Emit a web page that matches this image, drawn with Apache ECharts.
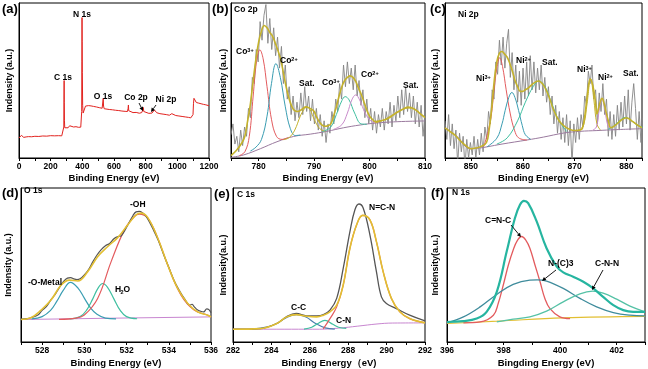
<!DOCTYPE html>
<html><head><meta charset="utf-8">
<script src="https://cdn.jsdelivr.net/npm/echarts@6/dist/echarts.min.js"></script>
<style>html,body{margin:0;padding:0;background:#fff}#c{width:648px;height:369px}</style>
</head><body><div id="c"></div>
<script>
const FONT = "'Liberation Sans Narrow','Liberation Sans',Arial,sans-serif";
const FONTW = "'Liberation Sans',Arial,sans-serif";

// ---------- (a) survey ----------
const surveyEnergy = [0,8,15,22,30,45,60,80,100,125,150,175,200,225,250,270,281,283,284,285,286,287,289,292,300,310,320,330,345,360,375,390,394,396,397,398,399,400,402,405,410,415,420,425,430,440,455,470,490,510,525,529,532,534,538,550,570,590,610,630,650,670,685,689,691,693,700,720,740,760,775,782,785,788,800,820,840,850,855,860,870,890,910,930,950,965,970,975,990,1010,1030,1050,1070,1085,1095,1099,1102,1105,1110,1120,1135,1150,1165,1180,1200];
const surveyIntensity = [12.9,13.2,14.6,13.4,13.3,13.6,13.8,13.7,14.0,13.9,14.2,14.1,14.4,14.3,14.4,14.3,14.5,20,38,50,36,24,19.5,18.8,18.8,19.5,20.8,20.2,20.0,20.2,19.8,19.9,20.5,30,62,90.6,75,55,34,29,28,30,33.5,34.6,34.3,33.8,33.6,33.3,32.9,32.4,32.1,33.0,38.5,33.5,31.8,31.6,31.3,31.1,30.8,30.6,30.3,30.1,30.0,32.0,34.2,30.5,29.6,29.3,29.4,28.9,29.3,31.0,32.6,30.0,29.1,28.8,29.0,30.2,31.0,29.8,29.2,28.6,28.3,28.0,27.6,28.6,29.6,28.4,27.4,27.1,26.8,26.5,26.2,25.9,25.5,28,35,38.5,37.4,35.8,35.4,35.0,34.6,34.3,33.7];
const surveyTickLabels = [0,200,400,600,800,1000,1200];

// ---------- (b) Co 2p ----------
const coRawStart = 775, coRawStep = 0.35;
const coRaw = [15,22,9,14,4,18,8,20,14,32,26,52,48,70,62,88,76,92,99,74,90,70,84,66,78,58,72,48,60,38,46,28,40,24,36,26,42,28,46,30,40,24,38,22,32,18,28,14,24,10,22,16,30,22,38,30,48,38,60,46,62,48,58,44,60,40,50,34,44,26,38,22,32,18,30,16,28,20,32,18,30,22,36,20,34,24,40,26,44,28,46,30,42,26,40,22,36,20,34,14,30];
const coEnvE = [775,776,777,777.5,778,778.5,779,779.5,780,780.5,781,781.5,782,782.5,783,783.5,784,784.5,785,785.5,786,786.5,787,787.5,788,788.5,789,789.5,790,790.5,791,791.5,792,792.5,793,793.5,794,794.5,795,795.5,796,796.5,797,797.5,798,798.5,799,799.5,800,800.5,801,802,803,804,805,806,807,808,809,810];
const coEnvI = [1.6,5,10,14,24,35,50,64,75,82,85.5,84,81,78.5,74,69,63,54,45,38,33,30.5,30,30.6,32,33,32.5,31.5,30,26,23,21,20.5,20.8,22,27,33,40,46,50,52,53,52,49.5,45,41,36,31,27,25,23.5,24,25,27,29.5,31.5,32.8,31.8,29,26];
const coBgE = [775,777.3,780.3,783.3,786.3,789.3,792.3,795.3,798.3,801.3,804.3,807.3,810];
const coBgI = [0.4,2,6,10.5,13.9,15.4,17.2,19.5,21.3,22.6,23.3,23.7,23.9];
const co3aE = [776.5,777.5,778.3,779,779.6,780.2,780.8,781.5,782.3,783.2,784.2,785.3];
const co3aI = [1.5,4,14,40,62,69.8,64,46,25,14,12,13.2];
const co2aE = [778.5,779.5,780.5,781.5,782.3,783.1,783.9,784.8,785.7,786.6,787.5];
const co2aI = [4.5,7,12,27,48,60.9,52,33,19,14.5,14.8];
const coSat1E = [784.5,785.5,786.5,787.5,788.2,788.7,789.3,790,791,792];
const coSat1I = [11.8,13.2,18,27,31.5,32.9,31,25,19,17.2];
const co3bE = [791.5,793,794,795,795.6,796.3,797.3,798.5,799.5];
const co3bI = [17,20,28,37,39.6,37.5,29,22,21.8];
const co2bE = [793.5,795,796,796.8,797.5,798.2,799.2,800.2,801.2];
const co2bI = [18.5,21.5,29,37.5,40.7,37.5,29,24,22.6];
const coSat2E = [801,802.5,804,805.5,806.5,807.3,808.3,809.2,810];
const coSat2I = [22.6,24.5,27.5,30.5,32,32.2,31,28.5,26.5];
const coTickLabels = [780,790,800,810];

// ---------- (c) Ni 2p ----------
const niRawStart = 845, niRawStep = 0.35;
const niRaw = [24,12,28,8,22,6,18,-4,16,4,14,-6,12,0,10,2,14,0,12,2,16,4,20,12,30,22,44,38,62,54,76,60,78,58,74,83,52,68,44,60,36,56,34,58,38,62,40,66,44,62,42,58,44,60,40,52,36,46,28,40,22,34,16,30,12,26,10,28,8,24,-4,22,10,26,12,28,20,40,34,56,48,60,38,44,22,42,30,48,28,38,14,30,12,28,14,34,18,36,20,40,22,44,18,36,48,32,12,30,10,26,16];
const niEnvE = [845,846,847,848,849,850,851,852,853,853.5,854,854.5,855,855.5,856,856.5,857,857.5,858,858.5,859,859.5,860,860.5,861,862,863,864,865,866,867,868,869,870,871,871.5,872,872.5,873,873.5,874,874.3,874.7,875,875.3,875.7,876,876.5,877,878,879,880,881,882,883];
const niEnvI = [19.5,17,14.5,11,8,6,6.5,7.5,10,18,32,50,62,67.6,68.7,67,65,61,56,50,46,43,43,44,45,48,49.7,47,40,30.6,24,20.5,18.5,17.7,18,19,28,42,51,47,37,28.4,33,37,38.5,35,30.6,24,19.5,21.5,24.5,26,24,21.5,19.5];
const niBgE = [845,847.3,849.9,851.8,853.1,856,860.8,864,867.9,871,874.3,878,883.7];
const niBgI = [19.5,13.9,6,6.5,7.2,9,11.6,13.5,16.1,17.2,17.7,18.3,19];
const ni3aE = [852.5,853.75,854.5,855,855.55,856.1,856.8,857.6,858.4,859.2,860.8];
const ni3aI = [7.5,23.9,45,58,64.7,59,44,28.4,18,13,11.6];
const ni2aE = [853.1,855,856,856.6,857.3,857.9,858.5,859.2,859.9,860.5,861.5];
const ni2aI = [7.2,12.8,22,30.6,39,42.3,39,30.6,21,15,12.2];
const niSat1E = [855,857,859,860.5,862,863.1,864.3,865.6,867,868.5];
const niSat1I = [9,13,24,36,46,49.7,46,35,24,17];
const ni3bE = [871,871.8,872.4,873.1,873.7,874.3,875];
const ni3bI = [18,22,35,51.2,38,22,18];
const ni2bE = [873.5,874.2,874.8,875.3,875.8,876.4,877];
const ni2bI = [18,20,32,38.5,32,21,18.5];
const niSat2E = [876.5,877.5,878.5,879.8,881,882,883.7];
const niSat2I = [18.5,20.5,23.5,26.2,24,21.5,19];
const niTickLabels = [850,860,870,880];

// ---------- (d) O 1s ----------
const oRawE = [527.0,527.3,527.5,527.8,528.0,528.2,528.4,528.6,528.8,529.0,529.2,529.35,529.5,529.65,529.8,530.0,530.2,530.4,530.6,530.8,531.0,531.2,531.4,531.6,531.75,531.9,532.1,532.3,532.45,532.6,532.75,532.9,533.1,533.3,533.5,533.75,534.0,534.25,534.5,534.75,535.0,535.1,535.2,535.35,535.5,535.65,535.8,535.9,536.0];
const oRawI = [14.8,15.2,15.9,17.5,20.5,23.0,27.0,30.5,35.0,39.0,41.5,41.8,41.0,40.5,41.0,43.5,47.0,52.0,56.5,60.0,62.5,64.0,67.0,68.5,69.0,72.0,77.0,82.0,84.5,84.8,84.0,82.0,77.5,72.0,66.0,57.0,48.5,40.0,33.5,28.0,24.0,24.5,23.0,21.0,20.0,19.5,21.5,21.0,19.0];
const oEnvE = [527,527.47,527.95,528.42,528.9,529.29,529.69,530.16,530.63,531.11,531.58,532.06,532.45,532.69,533,533.48,533.95,534.42,534.9,535.37,535.85,536];
const oEnvI = [14.6,15.7,20.7,27.2,37,40.2,39.6,45.7,55.4,62,67.8,76.1,82.6,83.7,80.9,67.4,50,34.8,25,19.6,17.4,16.3];
const oBgE = [527,531.5,536];
const oBgI = [14.6,15.5,16.3];
const oMetalE = [527.5,528.0,528.4,528.7,529.0,529.34,529.7,530.0,530.3,530.6,531.0,531.5];
const oMetalI = [15.0,16.5,20.5,26.5,33.5,38.7,35.0,28.5,22.0,18.0,15.5,15.0];
const oH2OE = [529.3,529.8,530.1,530.4,530.65,530.87,531.1,531.4,531.7,532.0,532.5];
const oH2OI = [15.0,16.5,20.5,28.0,35.0,38.0,35.5,28.0,20.5,16.5,15.1];
const oOHE = [528.8,529.6,530.0,530.63,531.27,531.9,532.37,532.6,533,533.48,533.95,534.58,535.2,535.85,536];
const oOHI = [14.7,15.5,17.5,28.3,52.2,72.8,81.5,83,80.4,67.4,50,30.4,20.7,17.4,16.3];
const oTickLabels = [528,530,532,534,536];

// ---------- (e) C 1s ----------
const cRawE = [282,283.42,284.28,284.8,285.29,285.84,286.36,286.71,287.05,287.4,287.74,288.09,288.35,288.56,288.78,289.13,289.47,289.73,289.99,290.51,291.2,292];
const cRawI = [8.3,8.7,12.0,16.5,18.5,17.0,17.0,17.8,20.7,28.3,47.8,71.7,85.9,89.6,87.0,69.6,45.7,29.3,25.0,21.7,17.4,13.7];
const cEnvE = [282,283.42,284.28,284.8,285.29,285.84,286.36,286.71,287.05,287.4,287.74,288.09,288.44,288.75,289.13,289.47,289.82,290.25,290.69,291.2,292];
const cEnvI = [8.3,8.7,12.0,16.3,17.8,16.7,16.3,17.4,19.6,23.9,37.0,60.9,76.1,82.2,79.3,65.2,45.7,28.3,19.6,15.2,12.4];
const cBgE = [282,286.5,287.5,288.5,289.5,290.3,292];
const cBgI = [8.3,8.3,9.0,10.3,11.7,12.3,12.4];
const cCCE = [283.0,283.8,284.3,284.8,285.3,285.8,286.3,286.8,287.3];
const cCCI = [8.3,9.8,12.2,16.0,17.8,16.2,12.0,9.2,8.4];
const cCNE = [285.7,286.1,286.4,286.79,287.2,287.5,287.9];
const cCNI = [8.4,9.6,11.8,14.1,11.5,9.6,8.9];
const cNCNE = [286.7,287.05,287.4,287.74,288.09,288.44,288.75,289.13,289.47,289.82,290.25,290.69,291.2,292];
const cNCNI = [8.5,15.2,22.8,37.0,60.9,76.1,82.2,79.3,65.2,45.7,28.3,19.6,15.2,12.6];
const cTickLabels = [282,284,286,288,290,292];

// ---------- (f) N 1s ----------
const nEnvE = [396,396.58,397.05,397.4,397.76,398.11,398.4,398.58,398.72,398.87,399.17,399.52,399.88,400.11,400.46,400.82,401.17,401.52,401.88,402.23,402.58,403];
const nEnvI = [13,13.5,15.2,19.6,32.6,58.7,80.4,89.1,91.7,90.2,78.3,60.9,48.9,45.2,42.4,39.1,34.8,29.3,23.9,20.7,19.6,19.6];
const nBgE = [396,397.76,400.11,403];
const nBgI = [12.0,13.5,15.7,16.7];
const nCNCE = [396.58,397.17,397.64,397.81,397.99,398.17,398.34,398.49,398.64,398.79,398.93,399.11,399.29,399.46,399.64,399.99,400.35];
const nCNCI = [12.4,13,17.4,25,37,50,59.8,66,68.5,66,60.9,50,39.1,28.3,21.7,16.3,15.2];
const nNC3E = [396,396.58,397.17,397.76,398.34,398.93,399.19,399.52,400.11,400.7,401.29,401.88,402.47,403];
const nNC3I = [12.4,16.3,22.8,30.9,37.4,40.2,40.4,39.6,34.8,28.3,22.8,19.1,17.4,17];
const nCNNE = [397.76,398.34,398.93,399.52,400.11,400.7,401.15,401.52,402,402.47,403];
const nCNNI = [13,14.8,16.3,20,26.1,31.3,33,31.7,27.8,23.3,19.6];
const nTickLabels = [396,398,400,402];

// ---------- build ----------
const zip = (e, v) => e.map((x, i) => [x, v[i]]);
const regular = (start, step, v) => v.map((y, i) => [+(start + i * step).toFixed(3), y]);

const grids = [
  {left: 19, top: 3, width: 190, height: 155},
  {left: 231, top: 3, width: 194, height: 155},
  {left: 445, top: 3, width: 197, height: 155},
  {left: 21, top: 188, width: 190, height: 154},
  {left: 233, top: 188, width: 192, height: 154},
  {left: 447, top: 188, width: 198, height: 154}
].map(g => Object.assign({show: true, borderColor: '#000', borderWidth: 1, backgroundColor: '#fff'}, g));

function xa(i, min, max, interval, labels, name, gap) {
  return {
    type: 'value', gridIndex: i, min, max, interval,
    axisLine: {onZero: false, lineStyle: {color: '#000', width: 1}},
    axisTick: {inside: false, length: 3, lineStyle: {color: '#000'}},
    splitLine: {show: false},
    axisLabel: {interval: 0, margin: 4, color: '#000', fontSize: 8.5, fontWeight: 'bold', fontFamily: FONT,
      formatter: v => labels.includes(Math.round(v * 1000) / 1000) ? String(v) : ''},
    name, nameLocation: 'middle', nameGap: gap,
    nameTextStyle: {color: '#000', fontSize: 9.5, fontWeight: 'bold', fontFamily: FONT}
  };
}
function ya(i, name, gap) {
  return {
    type: 'value', gridIndex: i, min: 0, max: 100,
    axisLine: {show: true, onZero: false, lineStyle: {color: '#000', width: 1}},
    axisTick: {show: false}, axisLabel: {show: false}, splitLine: {show: false},
    name, nameLocation: 'middle', nameGap: gap, nameRotate: 90,
    nameTextStyle: {color: '#000', fontSize: 9, fontWeight: 'bold', fontFamily: FONT}
  };
}
const xAxis = [
  xa(0, 0, 1200, 100, surveyTickLabels, 'Binding Energy (eV)', 15.5),
  xa(1, 775, 810, 5, coTickLabels, 'Binding Energy (eV)', 15.5),
  xa(2, 845, 883, 5, niTickLabels, 'Binding Energy (eV)', 15.5),
  xa(3, 527, 536, 1, oTickLabels, 'Binding Energy (eV)', 16),
  xa(4, 282, 292, 1, cTickLabels, 'Binding Energy（eV)', 16),
  xa(5, 396, 403, 1, nTickLabels, 'Bingding Energy (eV)', 16)
];
const yAxis = [
  ya(0, 'Indensity (a.u.)', 5), ya(1, 'Indensity (a.u.)', 3), ya(2, 'Indensity (a.u.)', 5),
  ya(3, 'Indensity (a.u.)', 8), ya(4, 'Indensity(a.u.)', 5), ya(5, 'Indensity(a.u.)', 7)
];

const COL = {
  red: '#e35b5e', teal: '#3a9db2', green: '#3fbfa0', olive: '#c4b22c', pink: '#c98bcb',
  purple: '#9a7a9e', gray: '#858585', dark: '#555555', yellow: '#e2bf32', bgPink: '#c886d0', envTeal: '#26b5a0', blue: '#4b7fae'
};
function s(i, data, color, width, smooth, z) {
  return {type: 'line', xAxisIndex: i, yAxisIndex: i, data, showSymbol: false, symbol: 'none',
    smooth: smooth, clip: true, z: z || 2, silent: true,
    lineStyle: {color, width: width || 1}, itemStyle: {color}};
}
const series = [
  s(0, zip(surveyEnergy, surveyIntensity), '#e2231f', 1, false),
  // (b)
  s(1, regular(coRawStart, coRawStep, coRaw), COL.gray, 0.9, false, 1),
  s(1, zip(coBgE, coBgI), COL.purple, 1, 0.4),
  s(1, zip(co3aE, co3aI), COL.red, 1, 0.4),
  s(1, zip(co2aE, co2aI), COL.teal, 1, 0.4),
  s(1, zip(coSat1E, coSat1I), COL.olive, 1, 0.4),
  s(1, zip(co3bE, co3bI), COL.green, 1, 0.4),
  s(1, zip(co2bE, co2bI), COL.pink, 1, 0.4),
  s(1, zip(coSat2E, coSat2I), COL.olive, 1, 0.4),
  s(1, zip(coEnvE, coEnvI), COL.olive, 1.6, 0.4, 3),
  // (c)
  s(2, regular(niRawStart, niRawStep, niRaw), COL.gray, 0.9, false, 1),
  s(2, zip(niBgE, niBgI), COL.purple, 1, 0.4),
  s(2, zip(ni3aE, ni3aI), COL.red, 1, 0.4),
  s(2, zip(ni2aE, ni2aI), COL.teal, 1, 0.4),
  s(2, zip(niSat1E, niSat1I), COL.green, 1, 0.4),
  s(2, zip(ni3bE, ni3bI), COL.olive, 1, 0.4),
  s(2, zip(ni2bE, ni2bI), COL.pink, 1, 0.4),
  s(2, zip(niSat2E, niSat2I), COL.green, 1, 0.4),
  s(2, zip(niEnvE, niEnvI), COL.olive, 1.6, 0.4, 3),
  // (d)
  s(3, zip(oBgE, oBgI), COL.bgPink, 1, false),
  s(3, zip(oMetalE, oMetalI), COL.teal, 1.2, 0.4),
  s(3, zip(oH2OE, oH2OI), COL.green, 1.2, 0.4),
  s(3, zip(oOHE, oOHI), COL.red, 1.2, 0.4),
  s(3, zip(oRawE, oRawI), COL.dark, 1.2, 0.4),
  s(3, zip(oEnvE, oEnvI), COL.yellow, 1.6, 0.4, 3),
  // (e)
  s(4, zip(cBgE, cBgI), COL.bgPink, 1, 0.4),
  s(4, zip(cCCE, cCCI), COL.blue, 1.2, 0.4),
  s(4, zip(cCNE, cCNI), COL.green, 1.2, 0.4),
  s(4, zip(cNCNE, cNCNI), COL.red, 1.2, 0.4),
  s(4, zip(cRawE, cRawI), COL.dark, 1.3, 0.4),
  s(4, zip(cEnvE, cEnvI), COL.yellow, 1.6, 0.4, 3),
  // (f)
  s(5, zip(nBgE, nBgI), COL.yellow, 1.2, 0.4),
  s(5, zip(nCNCE, nCNCI), COL.red, 1.3, 0.4),
  s(5, zip(nNC3E, nNC3I), '#3f8c9c', 1.3, 0.4),
  s(5, zip(nCNNE, nCNNI), '#55c2a6', 1.3, 0.4),
  s(5, zip(nEnvE, nEnvI), COL.envTeal, 2.2, 0.4, 3)
];

// ---------- annotations ----------
const LBL = 8.5;
function txt(x, y, text, size, family, align) {
  return {type: 'text', z: 50, style: {x, y, text, fill: '#000', fontSize: size || LBL, fontWeight: 'bold',
    fontFamily: family || FONT, align: align || 'left', verticalAlign: 'middle', textAlign: align || 'left', textVerticalAlign: 'middle'}};
}
function rich(x, y, base, script) {
  const b = {fontSize: LBL, fontWeight: 'bold', fontFamily: FONT, lineHeight: 12, verticalAlign: 'top', fill: '#000', color: '#000'};
  const sc = {fontSize: 5.5, fontWeight: 'bold', fontFamily: FONT, lineHeight: 6, verticalAlign: 'top', fill: '#000', color: '#000'};
  return {type: 'text', z: 50, style: {x, y, text: `{b|${base}}{s|${script}}`, rich: {b, s: sc}, align: 'left', verticalAlign: 'middle', textAlign: 'left', textVerticalAlign: 'middle'}};
}
function arrow(x1, y1, x2, y2) {
  const a = Math.atan2(y2 - y1, x2 - x1), L = 4, W = 2;
  const bx = x2 - L * Math.cos(a), by = y2 - L * Math.sin(a);
  return [
    {type: 'line', z: 50, shape: {x1, y1, x2: bx, y2: by}, style: {stroke: '#000', lineWidth: 0.9}},
    {type: 'polygon', z: 50, shape: {points: [[x2, y2], [bx + W * Math.sin(a), by - W * Math.cos(a)], [bx - W * Math.sin(a), by + W * Math.cos(a)]]}, style: {fill: '#000'}}
  ];
}
const graphic = [
  txt(2, 9, '(a)', 13, FONTW), txt(212, 9, '(b)', 13, FONTW), txt(430, 9, '(c)', 13, FONTW),
  txt(2, 193, '(d)', 13, FONTW), txt(214, 194, '(e)', 13, FONTW), txt(431, 193, '(f)', 13, FONTW),
  // (a)
  txt(82, 15, 'N 1s', LBL, FONT, 'center'), txt(63, 78, 'C 1s', LBL, FONT, 'center'),
  txt(103, 97, 'O 1s', LBL, FONT, 'center'), txt(136, 98, 'Co 2p', LBL, FONT, 'center'),
  txt(166, 100, 'Ni 2p', LBL, FONT, 'center'),
  ...arrow(139, 103, 143, 111), ...arrow(156, 105, 151, 112),
  // (b)
  txt(234, 10, 'Co 2p'),
  rich(236, 53, 'Co', '3+'), rich(280, 62, 'Co', '2+'), txt(299, 84, 'Sat.'),
  rich(322, 84, 'Co', '3+'), rich(361, 76, 'Co', '2+'), txt(403, 86, 'Sat.'),
  // (c)
  txt(458, 15, 'Ni 2p'),
  rich(476, 80, 'Ni', '3+'), rich(516, 62, 'Ni', '2+'), txt(542, 63, 'Sat.'),
  rich(577, 71, 'Ni', '3+'), rich(598, 79, 'Ni', '2+'), txt(623, 74, 'Sat.'),
  // (d)
  txt(24, 191, 'O 1s'), txt(130, 205, '-OH'), txt(28, 283, '-O-Metal'),
  txt(115, 290, 'H'), txt(120.6, 292.5, '2', 5.5), txt(123.6, 290, 'O'),
  // (e)
  txt(237, 195, 'C 1s'), txt(369, 208, 'N=C-N'), txt(291, 308, 'C-C'), txt(336, 321, 'C-N'),
  // (f)
  txt(452, 193, 'N 1s'), txt(485, 221, 'C=N-C'), txt(548, 264, 'N-(C)3'), txt(595, 264, 'C-N-N'),
  ...arrow(511, 225, 521, 237), ...arrow(556, 270, 542, 281), ...arrow(603, 270, 592, 290)
];

const chart = echarts.init(document.getElementById('c'), null, {renderer: 'canvas'});
chart.setOption({
  backgroundColor: '#fff', animation: false,
  grid: grids, xAxis, yAxis, series, graphic
});
</script></body></html>
